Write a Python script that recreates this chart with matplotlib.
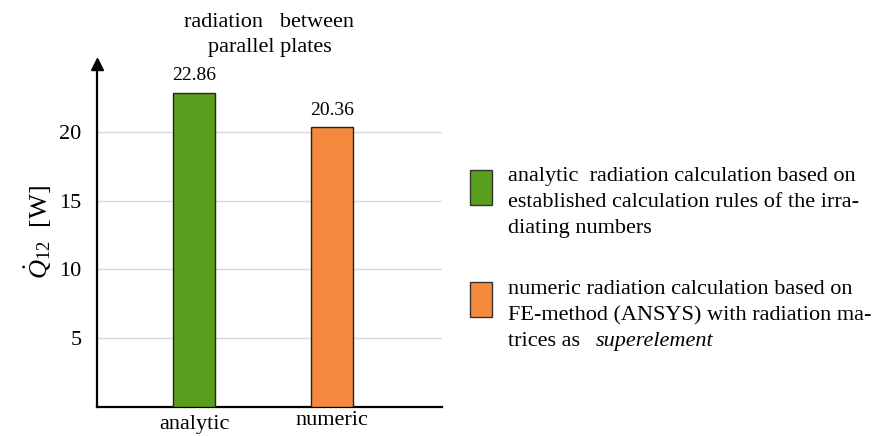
import matplotlib.pyplot as plt
from matplotlib.patches import Rectangle
from matplotlib.transforms import ScaledTranslation

plt.rcParams['font.family'] = ['Liberation Serif', 'DejaVu Serif']
plt.rcParams['mathtext.fontset'] = 'custom'
plt.rcParams['mathtext.rm'] = 'Liberation Serif'
plt.rcParams['mathtext.it'] = 'Liberation Serif:italic'

# data
categories = ['analytic', 'numeric']
values = [22.86, 20.36]
colors = ['#5a9e1e', '#f4883c']
yticks = [5, 10, 15, 20]
title_lines = ['radiation   between', 'parallel plates']
legend_lines = [
    ['analytic  radiation calculation based on',
     'established calculation rules of the irra-',
     'diating numbers'],
    ['numeric radiation calculation based on',
     'FE-method (ANSYS) with radiation ma-',
     'trices as'],
]
legend_italic = [None, 'superelement']

W, H = 874, 436
fig = plt.figure(figsize=(W / 100, H / 100), dpi=100)
ax = fig.add_axes([0.111, 0.0665, 0.395, 0.787])

x = range(len(categories))
bars = ax.bar(x, values, width=0.30, color=colors, edgecolor='#222222',
              linewidth=1.0, zorder=3)
for b, v in zip(bars, values):
    ax.annotate(f'{v:.2f}', (b.get_x() + b.get_width() / 2, v),
                xytext=(0, 6), textcoords='offset points',
                ha='center', va='bottom', fontsize=14)

ax.set_xlim(-0.703, 1.797)
ax.set_ylim(0, 24.95)
ax.set_yticks(yticks)
ax.set_xticks(list(x))
ax.set_xticklabels(categories)
ax.tick_params(axis='y', length=0, pad=11, labelsize=16)
ax.tick_params(axis='x', length=0, pad=6, labelsize=16)
# numeric label sits a bit higher in the original
lbl = ax.get_xticklabels()[1]
lbl.set_transform(lbl.get_transform() + ScaledTranslation(0, 0.04, fig.dpi_scale_trans))

ax.grid(axis='y', color='#d9d9d9', linewidth=1.0, zorder=0)
ax.spines['top'].set_visible(False)
ax.spines['right'].set_visible(False)
ax.spines['left'].set_linewidth(1.6)
ax.spines['bottom'].set_linewidth(1.6)
ax.plot([0], [1], marker='^', markersize=8, color='black',
        transform=ax.transAxes, clip_on=False, zorder=5)

# title, two lines on fixed baselines
for i, line in enumerate(title_lines):
    fig.text(269.5 / W, 1 - (27 + 25 * i) / H, line, fontsize=16,
             ha='center', va='baseline')

ax.set_ylabel('$\\dot{Q}_{12}$  [W]', fontsize=19, va='center')
ax.yaxis.set_label_coords(-0.171, 0.51)

# legend
patch_top = [170, 282]
base0 = [181, 294]
for k in range(len(colors)):
    fig.patches.append(Rectangle((470 / W, 1 - (patch_top[k] + 35) / H),
                                 22 / W, 35 / H, facecolor=colors[k],
                                 edgecolor='#333333', linewidth=1.0,
                                 transform=fig.transFigure))
    for i, line in enumerate(legend_lines[k]):
        fig.text(508 / W, 1 - (base0[k] + 26 * i) / H, line, fontsize=16,
                 ha='left', va='baseline')
    if legend_italic[k]:
        fig.text(596 / W, 1 - (base0[k] + 52) / H, legend_italic[k],
                 fontsize=16, ha='left', va='baseline', style='italic')

fig.savefig('out.png', dpi=100)
